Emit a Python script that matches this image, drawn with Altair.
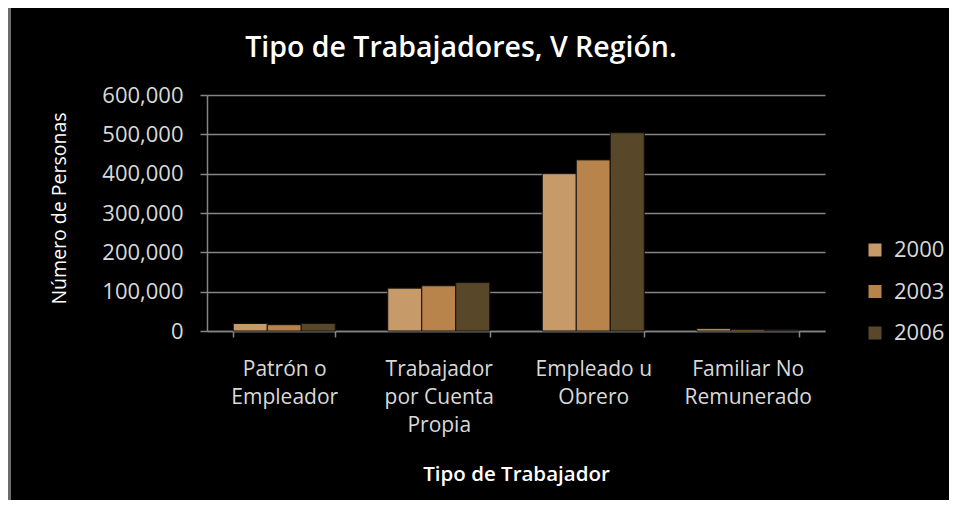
import altair as alt
import pandas as pd

title_text = "Tipo de Trabajadores, V Región."
categories = ["Patrón o\nEmpleador", "Trabajador\npor Cuenta\nPropia", "Empleado u\nObrero", "Familiar No\nRemunerado"]
years = ["2000", "2003", "2006"]
values_2000 = [19000, 109000, 400000, 6000]
values_2003 = [16000, 115000, 435000, 4000]
values_2006 = [19000, 123000, 504000, 3000]
colors = ["#c79a69", "#b9844b", "#584829"]

rows = []
for i, c in enumerate(categories):
    for y, vals in zip(years, [values_2000, values_2003, values_2006]):
        rows.append({"tipo": c, "anio": y, "personas": vals[i]})
df = pd.DataFrame(rows)
title_df = pd.DataFrame({"t": [title_text]})

FONT = "Open Sans"
LABEL = "#d9d9d9"
GRID = "#858585"

bars = alt.Chart(df).mark_bar(stroke="#111111", strokeWidth=1).encode(
    x=alt.X("tipo:N", sort=categories,
            scale=alt.Scale(paddingInner=0.34, paddingOuter=0.17),
            axis=alt.Axis(title="Tipo de Trabajador", labelAngle=0,
                          labelExpr="split(datum.label, '\\n')",
                          labelFont=FONT, labelFontSize=21, labelColor=LABEL,
                          labelLineHeight=28, labelPadding=21,
                          tickBand="extent", tickSize=6, tickColor=GRID, tickWidth=1.5,
                          domainColor=GRID, domainWidth=1.5,
                          titleFont=FONT, titleFontSize=20.5, titleFontWeight=600,
                          titleColor="white", titleY=149, titleBaseline="alphabetic")),
    xOffset=alt.XOffset("anio:N", sort=years, scale=alt.Scale(paddingInner=0, paddingOuter=0)),
    y=alt.Y("personas:Q", scale=alt.Scale(domain=[0, 600000]),
            axis=alt.Axis(title="Número de Personas", values=[0, 100000, 200000, 300000, 400000, 500000, 600000],
                          format=",.0f", labelFont=FONT, labelFontSize=22, labelColor=LABEL,
                          labelPadding=17, tickSize=7, tickColor=GRID, tickWidth=1.5,
                          domainColor=GRID, domainWidth=1.5,
                          grid=True, gridColor=GRID, gridWidth=1.5,
                          titleFont=FONT, titleFontSize=19.5, titleFontWeight="normal",
                          titleColor="white", titleX=-148, titleY=113,
                          titleAngle=270, titleBaseline="middle", titleAlign="center")),
    color=alt.Color("anio:N", sort=years, scale=alt.Scale(domain=years, range=colors),
                    legend=alt.Legend(title=None, orient="none", legendX=657, legendY=144,
                                      symbolType="square", symbolSize=169, symbolStrokeWidth=0,
                                      labelFont=FONT, labelFontSize=22, labelColor=LABEL,
                                      labelOffset=8, rowPadding=19.5, padding=0)),
)

border = alt.Chart(df).mark_rule(color="#6b6b6b", strokeWidth=3).encode(
    x=alt.value(-197.5), y=alt.value(-87), y2=alt.value(405)
)

title = alt.Chart(title_df).mark_text(
    font=FONT, fontSize=28.5, fontWeight=600, color="white",
    align="center", baseline="alphabetic"
).encode(text="t:N", x=alt.value(254), y=alt.value(-38.5))

chart = alt.layer(bars, border, title).properties(
    width=618, height=236,
    padding={"left": 199, "top": 87, "right": 124, "bottom": 169},
    autosize=alt.AutoSizeParams(type="none"),
    background="black",
).configure_view(stroke=None)

chart.save("out.html", embed_options={"renderer": "svg", "actions": False})
